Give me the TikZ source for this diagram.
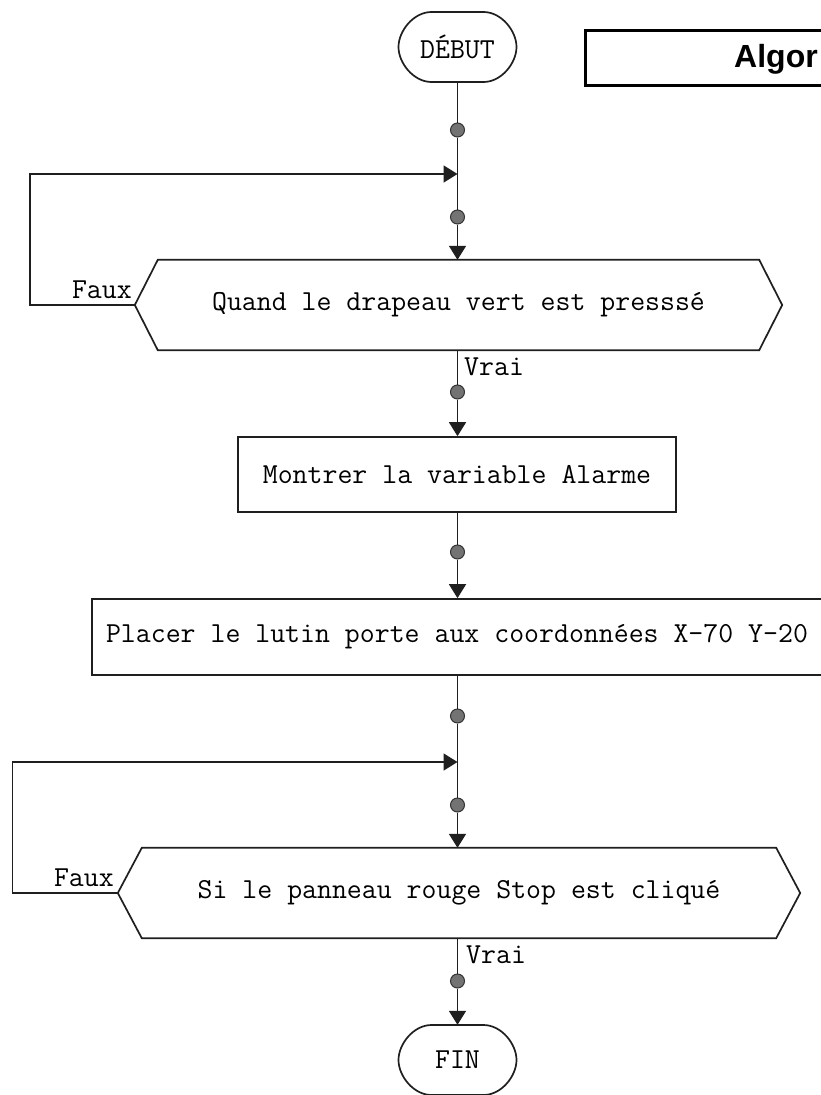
\documentclass[tikz,border=0pt]{standalone}
\usepackage{fontspec}
\newfontfamily\titlefont{Liberation Sans}
\usetikzlibrary{arrows.meta,calc}

\tikzset{
  flowline/.style={draw=black!88, line width=1.7pt},
  flowarrow/.style={flowline, -{Triangle[length=14pt,width=17pt]}},
  junction/.style={circle, draw=black!80, fill=black!55, line width=1pt,
                   minimum size=14pt, inner sep=0pt},
  boxtext/.style={font=\ttfamily\fontsize{29pt}{31pt}\selectfont, inner sep=0pt},
  actionbox/.style={boxtext, draw=black!88, line width=1.7pt},
  hexnode/.style={boxtext},
  termnode/.style={boxtext, minimum width=118pt, minimum height=70pt},
  edgelabel/.style={font=\ttfamily\fontsize{29pt}{31pt}\selectfont, inner sep=0pt}
}

% outline of a start/end terminal, drawn around the current origin
\newcommand\terminaloutline{%
  (-26,-35) -- (26,-35) .. controls (44,-35) and (59,-16) .. (59,0)
  .. controls (59,16) and (44,35) .. (26,35) -- (-26,35)
  .. controls (-44,35) and (-59,16) .. (-59,0)
  .. controls (-59,-16) and (-44,-35) .. (-26,-35) -- cycle}

% outline of a decision hexagon around a named node
\newcommand\hexoutline[2]{%
  (#1.west) -- ($(#1.north west)+(#2,0)$) -- ($(#1.north east)+(-#2,0)$)
  -- (#1.east) -- ($(#1.south east)+(-#2,0)$) -- ($(#1.south west)+(#2,0)$) -- cycle}

\begin{document}
\begin{tikzpicture}[x=1pt, y=-1pt]
\useasboundingbox (0,0) rectangle (821,1095);
\clip (0,0) rectangle (821,1095);
\fill[white] (0,0) rectangle (821,1095);

% title frame
\draw[line width=3pt] (585,30) rectangle (900,85);
\node[anchor=base west, inner sep=0pt,
      font=\titlefont\bfseries\fontsize{32pt}{34pt}\selectfont] (title) at (734,67) {Algor};

% start terminal
\node[termnode] (debut) at (457.5,47) {DÉBUT};
\draw[flowline] [shift={(debut.center)}] \terminaloutline;

% junction dots and merge points
\node[junction] (d1) at (457.5,130) {};
\coordinate (j1) at (457.5,174);
\node[junction] (d2) at (457.5,217) {};

% first decision
\node[hexnode, minimum width=647pt, minimum height=90pt] (h1) at (458.5,305)
  {Quand le drapeau vert est presssé};
\draw[flowline] \hexoutline{h1}{23};

\node[junction] (d3) at (457.5,392) {};

\node[actionbox, minimum width=438pt, minimum height=75pt] (r1) at (457,474.5)
  {Montrer la variable Alarme};

\node[junction] (d4) at (457.5,552) {};

\node[actionbox, minimum width=730pt, minimum height=76pt] (r2) at (457,637)
  {Placer le lutin porte aux coordonnées X-70 Y-20};

\node[junction] (d5) at (457.5,716) {};
\coordinate (j2) at (457.5,762);
\node[junction] (d6) at (457.5,805) {};

% second decision
\node[hexnode, minimum width=682pt, minimum height=90pt] (h2) at (459,893)
  {Si le panneau rouge Stop est cliqué};
\draw[flowline] \hexoutline{h2}{24};

\node[junction] (d7) at (457.5,981) {};

% end terminal
\node[termnode] (fin) at (457.5,1060) {FIN};
\draw[flowline] [shift={(fin.center)}] \terminaloutline;

% main flow
\draw[flowline] (debut.south) -- (d1);
\draw[flowline] (d1) -- (j1) -- (d2);
\draw[flowarrow] (d2) -- (h1.north -| d2);
\draw[flowline] (h1.south -| d3) -- (d3);
\draw[flowarrow] (d3) -- (r1.north -| d3);
\draw[flowline] (r1.south -| d4) -- (d4);
\draw[flowarrow] (d4) -- (r2.north -| d4);
\draw[flowline] (r2.south -| d5) -- (d5);
\draw[flowline] (d5) -- (j2) -- (d6);
\draw[flowarrow] (d6) -- (h2.north -| d6);
\draw[flowline] (h2.south -| d7) -- (d7);
\draw[flowarrow] (d7) -- (fin.north -| d7);

% "false" loops back to the merge points
\coordinate (l1) at (30,305);
\coordinate (l2) at (12.5,893);
\draw[flowarrow] (h1.west) -- (l1) -- (l1 |- j1) -- (j1);
\draw[flowarrow] (h2.west) -- (l2) -- (l2 |- j2) -- (j2);

% branch labels
\node[edgelabel, anchor=base east] (faux1) at (132,298) {Faux};
\node[edgelabel, anchor=base west] (vrai1) at (464,375) {Vrai};
\node[edgelabel, anchor=base east] (faux2) at (114,886) {Faux};
\node[edgelabel, anchor=base west] (vrai2) at (466,963) {Vrai};
\end{tikzpicture}
\end{document}
